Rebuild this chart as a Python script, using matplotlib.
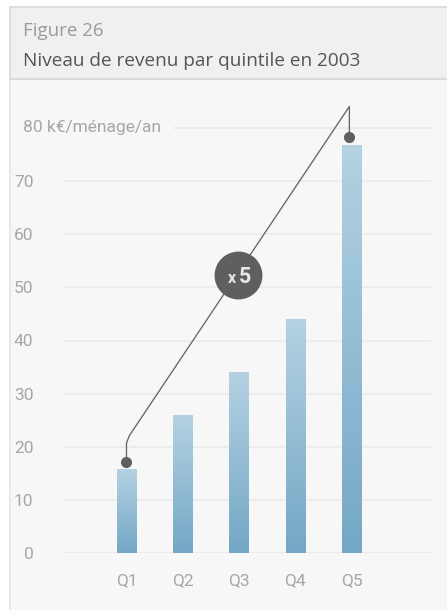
import numpy as np
import matplotlib.pyplot as plt
from matplotlib.colors import LinearSegmentedColormap
from matplotlib.patches import Rectangle

# data
quintiles = ['Q1', 'Q2', 'Q3', 'Q4', 'Q5']
revenu = [15.7, 25.9, 33.9, 43.9, 76.6]
yticks = [0, 10, 20, 30, 40, 50, 60, 70]
ratio_label = '5'

W, H = 447, 610
fig = plt.figure(figsize=(W / 100, H / 100), dpi=100)
fig.patch.set_facecolor('white')

def fx(px):
    return px / W

def fy(py):
    return 1 - py / H

# panels (header + chart area)
fig.patches.append(Rectangle((fx(10), -0.01), 1, fy(79) + 0.01, transform=fig.transFigure,
                             facecolor='#f7f7f7', edgecolor='#e4e4e4', lw=1.2, zorder=-2))
fig.patches.append(Rectangle((fx(10), fy(79)), 1, fy(7) - fy(79), transform=fig.transFigure,
                             facecolor='#f0f0f0', edgecolor='#d8d8d8', lw=1.2, zorder=-2))

fig.text(fx(23), fy(31), 'Figure 26', fontsize=13.5, color='#9a9a9a',
         family='Open Sans', va='center', ha='left')
fig.text(fx(23), fy(61), 'Niveau de revenu par quintile en 2003', fontsize=13.7,
         color='#555555', family='Open Sans', va='center', ha='left')

# axes
y0_px, per10 = 553.3, 53.2
ymax = 86
ax = fig.add_axes([fx(64), fy(y0_px), fx(431) - fx(64), (ymax / 10 * per10) / H])
ax.set_facecolor('none')
for s in ax.spines.values():
    s.set_visible(False)

xmin, xmax = -1.11, 5.41
ax.set_xlim(xmin, xmax)
ax.set_ylim(0, ymax)

# gridlines
for t in yticks:
    ax.axhline(t, color='#e9e9e9', lw=1.1, zorder=1)
ax.axhline(80, xmin=(174 - 64) / (431 - 64), color='#e9e9e9', lw=1.1, zorder=1)

# gradient bars
cmap = LinearSegmentedColormap.from_list('bars', ['#74a7c6', '#b4d2e2'])
grad = np.linspace(0, 1, 256).reshape(-1, 1)
bw = 0.34
x = np.arange(len(quintiles))
for xi, v in zip(x, revenu):
    ax.imshow(grad, cmap=cmap, origin='lower', aspect='auto',
              extent=[xi - bw / 2, xi + bw / 2, 0, v], zorder=2)
ax.set_xlim(xmin, xmax)
ax.set_ylim(0, ymax)

# ticks
tick_col = '#a6a6a6'
ax.set_xticks(x)
ax.set_xticklabels(quintiles)
ax.set_yticks(yticks)
ax.set_yticklabels([str(t) for t in yticks])
ax.tick_params(length=0, labelsize=12.5, labelcolor=tick_col)
ax.tick_params(axis='y', pad=22)
ax.tick_params(axis='x', pad=14)
for lab in ax.get_xticklabels() + ax.get_yticklabels():
    lab.set_family('Roboto')
ax.text((23 - 64) / (431 - 64), 80, '80 k€/ménage/an', transform=ax.get_yaxis_transform(),
        fontsize=12.5, color=tick_col, family='Roboto',
        ha='left', va='center')

# annotation line Q1 -> Q5
v1, v5 = revenu[0], revenu[-1]
top = v5 + 7.4
px = [0, 0, 0.05, 3.96, 3.96]
py = [v1 + 1.4, v1 + 5.0, v1 + 6.4, top, v5 + 1.7]
ax.plot(px, py, color='#666666', lw=0.95, zorder=3, clip_on=False)
ax.plot([px[0], px[-1]], [py[0], py[-1]], 'o', color='#5f5f5f', ms=7, zorder=4, clip_on=False)

# x5 badge
cx, cy = 1.99, 52.3
ax.scatter([cx], [cy], s=1120, color='#5f5f5f', zorder=5, clip_on=False)
ax.text(cx - 0.12, cy - 0.6, 'x', fontsize=11.5, fontweight='bold', color='#e8e8e8',
        family='Roboto', ha='center', va='center', zorder=6)
ax.text(cx + 0.11, cy - 0.3, ratio_label, fontsize=15.5, fontweight='bold', color='#e8e8e8',
        family='Roboto', ha='center', va='center', zorder=6)

fig.savefig('out.png', dpi=100)
